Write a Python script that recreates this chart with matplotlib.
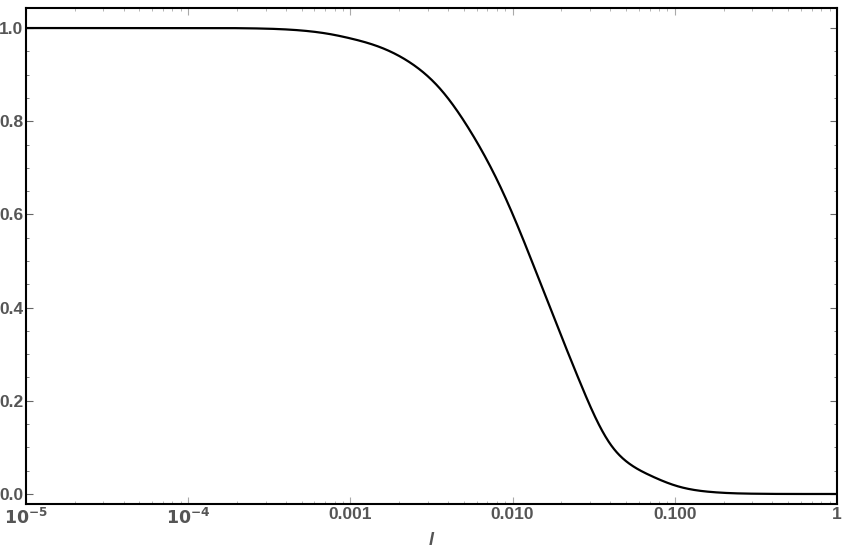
import matplotlib
matplotlib.use("Agg")
import matplotlib.pyplot as plt
import matplotlib.ticker as mticker
import numpy as np

# data
x_vals = [1e-5, 1.183e-4, 2.77e-4, 4.89e-4, 7.48e-4, 9.94e-4, 1.522e-3,
          2.331e-3, 3.567e-3, 5.461e-3, 8.362e-3, 1.1106e-2, 1.4754e-2,
          1.960e-2, 2.603e-2, 3.221e-2, 3.986e-2, 5.295e-2, 7.034e-2,
          1.032e-1, 1.718e-1, 3.21e-1, 1.0]
y_vals = [1.0, 1.0, 0.999, 0.995, 0.987, 0.978, 0.959,
          0.926, 0.870, 0.780, 0.661, 0.563, 0.455,
          0.346, 0.240, 0.166, 0.108, 0.064, 0.040,
          0.017, 0.004, 0.0005, 0.0]

x_ticks = [1e-5, 1e-4, 1e-3, 1e-2, 1e-1, 1]
x_tick_labels = [r"$\mathbf{10^{-5}}$", r"$\mathbf{10^{-4}}$", "0.001", "0.010", "0.100", "1"]
y_ticks = [0.0, 0.2, 0.4, 0.6, 0.8, 1.0]
y_tick_labels = ["0.0", "0.2", "0.4", "0.6", "0.8", "1.0"]

plt.rcParams['font.family'] = ['Liberation Sans Narrow', 'Liberation Sans', 'DejaVu Sans']
plt.rcParams['mathtext.fontset'] = 'custom'
plt.rcParams['mathtext.rm'] = 'Liberation Sans Narrow:bold'
plt.rcParams['mathtext.bf'] = 'Liberation Sans Narrow:bold'

fig = plt.figure(figsize=(8.43, 5.58), dpi=100)
ax = fig.add_axes([26/843, 54/558, 811/843, 496/558])

# natural cubic spline through the read points, in log-x
lx = np.log10(x_vals)
ly = np.array(y_vals)
n = len(lx)
h = np.diff(lx)
A = np.zeros((n, n))
b = np.zeros(n)
A[0, 0] = 1.0
A[-1, -1] = 1.0
for i in range(1, n - 1):
    A[i, i-1] = h[i-1]
    A[i, i] = 2 * (h[i-1] + h[i])
    A[i, i+1] = h[i]
    b[i] = 6 * ((ly[i+1] - ly[i]) / h[i] - (ly[i] - ly[i-1]) / h[i-1])
M = np.linalg.solve(A, b)
xx = np.linspace(lx[0], lx[-1], 1500)
idx = np.clip(np.searchsorted(lx, xx) - 1, 0, n - 2)
x0 = lx[idx]
x1 = lx[idx + 1]
hi = h[idx]
yy = (M[idx] * (x1 - xx)**3 / (6 * hi) + M[idx + 1] * (xx - x0)**3 / (6 * hi)
      + (ly[idx] / hi - M[idx] * hi / 6) * (x1 - xx)
      + (ly[idx + 1] / hi - M[idx + 1] * hi / 6) * (xx - x0))
yy = np.clip(yy, 0.0, 1.0)

ax.plot(10**xx, yy, color='black', lw=1.6)

ax.set_xscale('log')
ax.set_xlim(1e-5, 1)
ax.set_ylim(-0.0215, 1.043)

ax.set_xticks(x_ticks)
ax.set_xticklabels(x_tick_labels)
ax.xaxis.set_minor_locator(mticker.LogLocator(base=10, subs=np.arange(2, 10), numticks=20))
ax.xaxis.set_minor_formatter(mticker.NullFormatter())
ax.set_yticks(y_ticks)
ax.set_yticklabels(y_tick_labels)
ax.yaxis.set_minor_locator(mticker.MultipleLocator(0.05))

tick_col = '#555555'
ax.tick_params(axis='both', which='both', direction='in', top=True, right=True,
               colors='#aaaaaa', labelcolor=tick_col, labelsize=12.5)
ax.tick_params(axis='y', which='both', colors='#666666', labelcolor=tick_col)
ax.tick_params(which='major', length=5, width=0.8, pad=2)
ax.tick_params(which='minor', length=2.5, width=0.6)
for lab in ax.get_xticklabels() + ax.get_yticklabels():
    lab.set_fontweight('bold')

for sp in ax.spines.values():
    sp.set_linewidth(1.5)
    sp.set_color('black')

ax.set_xlabel('l', fontstyle='italic', fontweight='bold', fontsize=13, color=tick_col, labelpad=4)

fig.savefig('out.png', dpi=100)
